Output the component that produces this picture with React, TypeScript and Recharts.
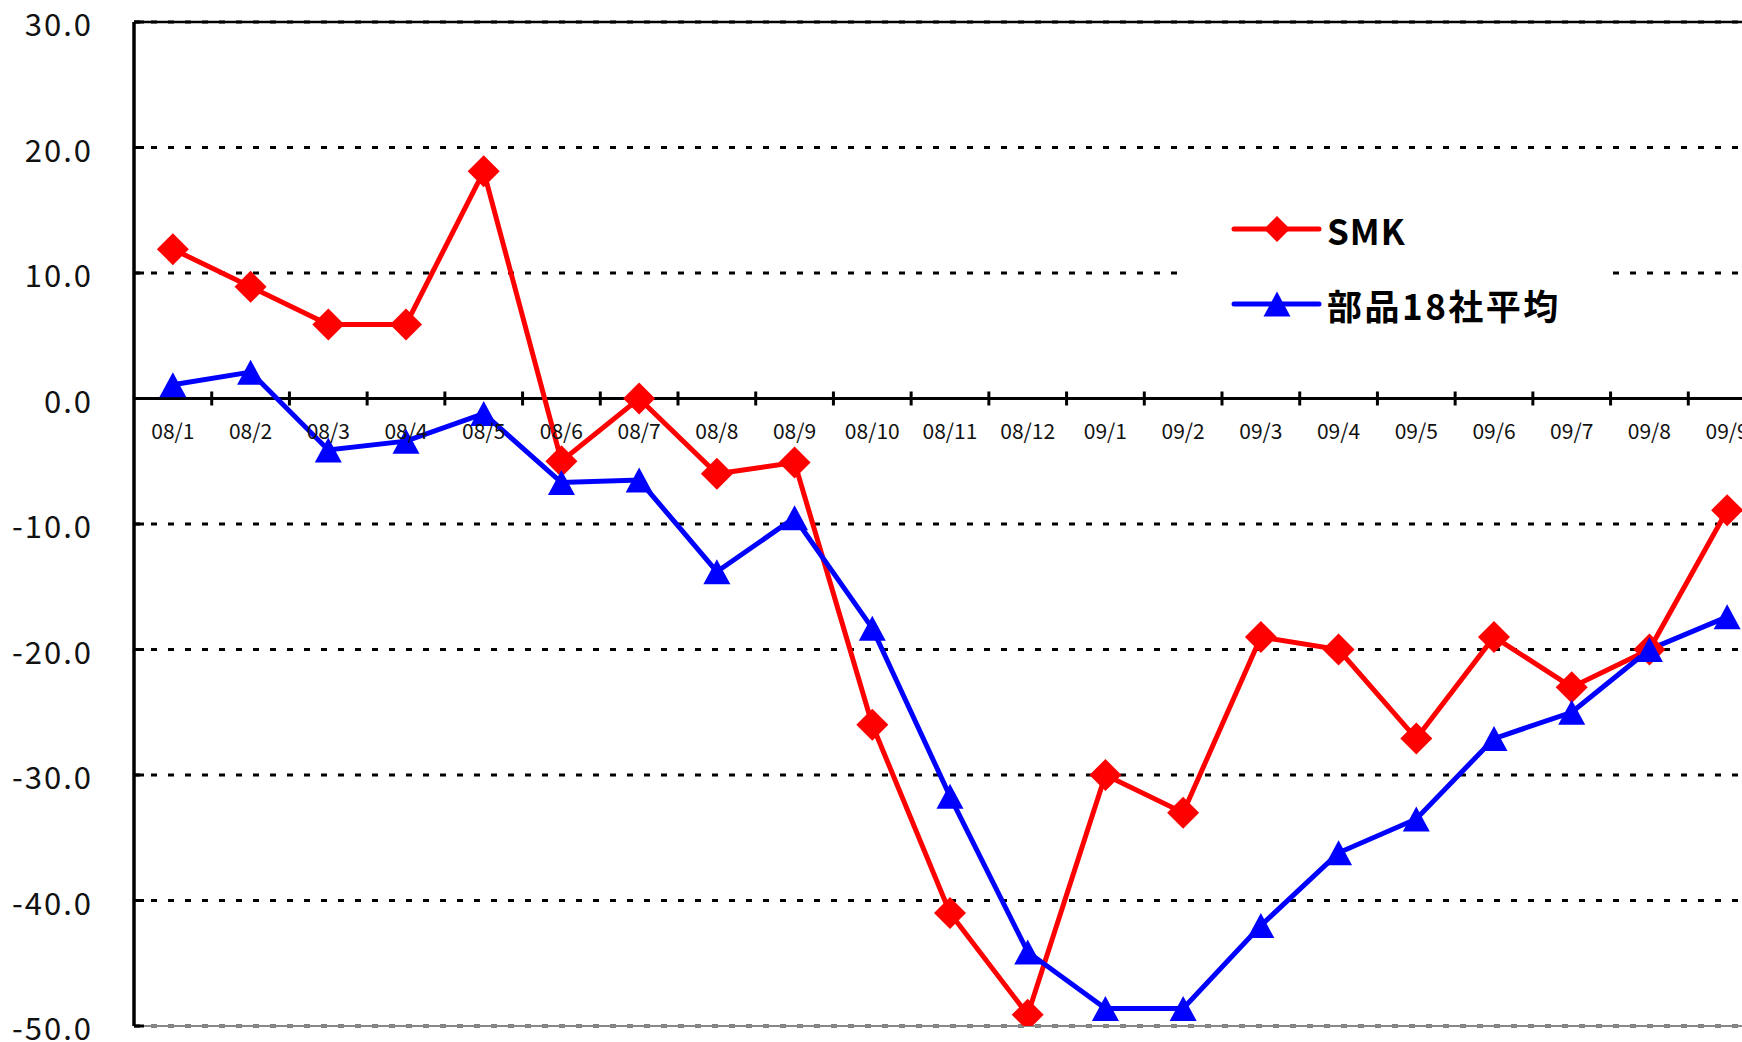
import React from "react";
import {
  LineChart,
  Line,
  XAxis,
  YAxis,
  CartesianGrid,
  ReferenceLine,
  Legend,
} from "recharts";

// month labels (FY08 / FY09)
const months = [
  "08/1", "08/2", "08/3", "08/4", "08/5", "08/6", "08/7", "08/8", "08/9", "08/10", "08/11", "08/12",
  "09/1", "09/2", "09/3", "09/4", "09/5", "09/6", "09/7", "09/8", "09/9",
];

const smk = [
  11.9, 8.9, 5.9, 5.9, 18.1, -5.0, 0.0, -6.0, -5.1, -26.0, -41.0, -49.1,
  -30.0, -33.0, -19.0, -20.0, -27.1, -19.0, -23.0, -20.0, -8.9,
];

const partsAvg = [
  1.1, 2.1, -4.1, -3.4, -1.2, -6.7, -6.5, -13.8, -9.5, -18.3, -31.7, -44.1,
  -48.6, -48.6, -42.0, -36.2, -33.5, -27.1, -25.0, -20.0, -17.4,
];

const yTicks = [30, 20, 10, 0, -10, -20, -30, -40, -50];

const SERIES_SMK = "SMK";
const SERIES_AVG = "部品18社平均";

const data = months.map((m, i) => ({
  month: m,
  [SERIES_SMK]: smk[i],
  [SERIES_AVG]: partsAvg[i],
}));

const FONT = "'Noto Sans CJK JP', 'Noto Sans', sans-serif";
const CHART_W = 1790;
const CHART_H = 1042;
const X_AXIS_H = 1;
const MARGIN = { top: 22, right: 24, bottom: 15, left: 0 };
const Y_AXIS_W = 134;
const PLOT_W = CHART_W - MARGIN.right - MARGIN.left - Y_AXIS_W;
const PLOT_H = CHART_H - MARGIN.top - MARGIN.bottom - X_AXIS_H;
const BAND = PLOT_W / months.length;
const Y_MAX = yTicks[0];
const Y_MIN = yTicks[yTicks.length - 1];
// pixel row of the zero line, where the category axis sits
const Y_ZERO = MARGIN.top + (PLOT_H * Y_MAX) / (Y_MAX - Y_MIN);

const RED = "#ff0000";
const BLUE = "#0000ff";

const renderCategoryTick = (p: any) => {
  const bx = p.x - BAND / 2;
  return (
    <g key={`xt-${p.index}`}>
      {p.index > 0 && (
        <line x1={bx} x2={bx} y1={Y_ZERO - 7} y2={Y_ZERO + 7} stroke="#000" strokeWidth={3} />
      )}
      <text x={p.x} y={Y_ZERO + 40} textAnchor="middle" fontSize={21} fontFamily={FONT} fill="#111">
        {p.payload.value}
      </text>
    </g>
  );
};

const diamondPath = (cx: number, cy: number, r: number) =>
  `M${cx},${cy - r}L${cx + r},${cy}L${cx},${cy + r}L${cx - r},${cy}Z`;

const trianglePath = (cx: number, cy: number, w: number, h: number) =>
  `M${cx},${cy - h / 2}L${cx + w / 2},${cy + h / 2}L${cx - w / 2},${cy + h / 2}Z`;

const renderDiamond = (p: any) => (
  <path key={`d-${p.index}`} d={diamondPath(p.cx, p.cy, 16)} fill={RED} />
);

const renderTriangle = (p: any) => (
  <path key={`t-${p.index}`} d={trianglePath(p.cx, p.cy, 27, 25)} fill={BLUE} />
);

const renderLegend = () => (
  <svg width={415} height={180} style={{ display: "block" }}>
    <line x1={47} x2={132} y1={54} y2={54} stroke={RED} strokeWidth={5} strokeLinecap="round" />
    <path d={diamondPath(90, 54, 13)} fill={RED} />
    <text x={140} y={54} dominantBaseline="central" fontSize={35} fontWeight={700} fontFamily={FONT} letterSpacing={1} fill="#000">
      {SERIES_SMK}
    </text>
    <line x1={47} x2={132} y1={129} y2={129} stroke={BLUE} strokeWidth={5} strokeLinecap="round" />
    <path d={trianglePath(90, 129, 27, 25)} fill={BLUE} />
    <text x={140} y={129} dominantBaseline="central" fontSize={35} fontWeight={700} fontFamily={FONT} letterSpacing={2.5} fill="#000">
      {SERIES_AVG}
    </text>
  </svg>
);

export default function App() {
  return (
    <div
      style={{
        position: "fixed",
        left: 0,
        top: 0,
        width: 1742,
        height: 1042,
        overflow: "hidden",
        background: "#fff",
      }}
    >
      <LineChart width={CHART_W} height={CHART_H} data={data} margin={MARGIN}>
        <CartesianGrid
          vertical={false}
          stroke="#000"
          strokeWidth={3}
          strokeDasharray="6 11"
        />
        <ReferenceLine y={Y_MAX} stroke="#000" strokeWidth={2.5} />
        <ReferenceLine y={Y_MIN} stroke="#888" strokeWidth={2} />
        <XAxis
          dataKey="month"
          height={X_AXIS_H}
          interval={0}
          axisLine={false}
          tickLine={false}
          padding={{ left: BAND / 2, right: BAND / 2 }}
          tick={renderCategoryTick}
        />
        <YAxis
          width={Y_AXIS_W}
          domain={[Y_MIN, Y_MAX]}
          ticks={yTicks}
          interval={0}
          allowDataOverflow
          tickFormatter={(v: number) => v.toFixed(1)}
          axisLine={{ stroke: "#000", strokeWidth: 3.5 }}
          tickLine={{ stroke: "#000", strokeWidth: 3 }}
          tickSize={-10}
          tickMargin={51}
          tick={{ fontSize: 31, fill: "#111", fontFamily: FONT, letterSpacing: 2, dy: 3 }}
        />
        <ReferenceLine y={0} stroke="#000" strokeWidth={3} />
        <Legend
          layout="vertical"
          align="center"
          verticalAlign="middle"
          content={renderLegend}
          wrapperStyle={{ left: 1187, top: 175, width: 415, height: 180, background: "#fff" }}
        />
        <Line
          dataKey={SERIES_SMK}
          stroke={RED}
          strokeWidth={5}
          dot={renderDiamond}
          activeDot={false}
          isAnimationActive={false}
        />
        <Line
          dataKey={SERIES_AVG}
          stroke={BLUE}
          strokeWidth={5}
          dot={renderTriangle}
          activeDot={false}
          isAnimationActive={false}
        />
      </LineChart>
    </div>
  );
}
